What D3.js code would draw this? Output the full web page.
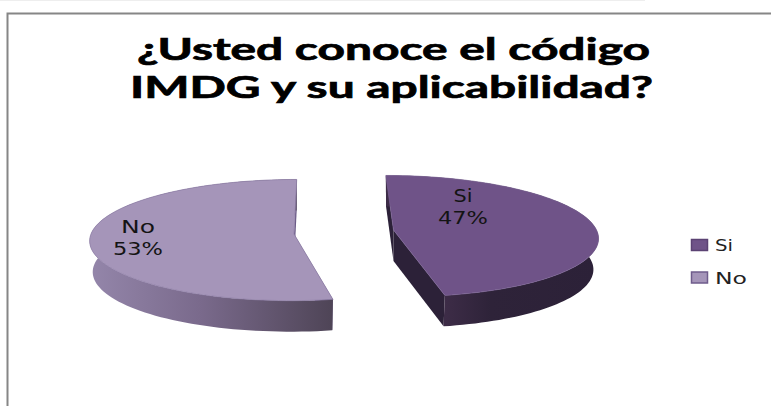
<!DOCTYPE html>
<html>
<head>
<meta charset="utf-8">
<script src="https://cdn.jsdelivr.net/npm/d3@7/dist/d3.min.js"></script>
<style>
html,body{margin:0;padding:0;background:#fff}
svg{display:block}
</style>
</head>
<body>
<svg id="chart" width="771" height="406"></svg>
<script>
// Chart content
const titleLines = ["¿Usted conoce el código", "IMDG y su aplicabilidad?"];
const categories = ["Si", "No"];
const percentages = [47, 53];

// Drawing style and layout for each slice
const topColors = ["#6f5388", "#a595b9"];
const legendBorders = ["#5b4273", "#6f5c8c"];
const sliceLayout = [
  {cx: 393.5, cy: 230, shear: 0.14, shrink: 0.975, labelX: 463, labelY: 196},
  {cx: 294, cy: 234, shear: -0.05, shrink: 0.985, labelX: 138, labelY: 227}
];
const titleLayout = [
  {x: 393.5, y: 60, length: 513},
  {x: 391.5, y: 98, length: 523}
];
const radiusX = 203, radiusY = 60, tilt = 0.1, depth = 31;

const svg = d3.select("#chart");
const defs = svg.append("defs");

// Faint strip along the upper edge and the frame around the chart
svg.append("rect").attr("x", 0).attr("y", 0).attr("width", 645).attr("height", 1).attr("fill", "#eeeeee");
svg.append("path").attr("d", "M7.5,406V13.5H771").attr("fill", "none").attr("stroke", "#868686").attr("stroke-width", 2);

// Title
svg.append("g").selectAll("text").data(titleLines).join("text")
  .attr("x", (d, i) => titleLayout[i].x)
  .attr("y", (d, i) => titleLayout[i].y)
  .attr("text-anchor", "middle")
  .attr("font-family", "Lato, 'Open Sans', sans-serif")
  .attr("font-weight", 700)
  .attr("font-size", 30)
  .attr("fill", "#000")
  .attr("stroke", "#000")
  .attr("stroke-width", 0.7)
  .attr("textLength", (d, i) => titleLayout[i].length)
  .attr("lengthAdjust", "spacingAndGlyphs")
  .text(d => d);

// Slice angles
const pie = d3.pie().sort(null).value(d => d).startAngle(0).endAngle(2 * Math.PI);
const arcs = pie(percentages);

// Perspective projection of a point on the pie's disc; v grows toward the viewer
function project(angle, r, layout, base) {
  const u = r * Math.sin(angle), v = -r * Math.cos(angle), w = 1 - tilt * v;
  const y = radiusY * v / w;
  let x = radiusX * u / w + layout.shear * y;
  if (base) x *= layout.shrink;
  return [layout.cx + x, layout.cy + y + (base ? depth : 0)];
}

const line = d3.line();
function rimAngles(a) {
  return d3.range(0, 97).map(i => a.startAngle + (a.endAngle - a.startAngle) * i / 96);
}

// Gradients for the outer walls
const gradientStops = [
  [["0%", "#3d2c47"], ["30%", "#2e2339"], ["100%", "#2c2138"]],
  [["0%", "#9486aa"], ["45%", "#7a6a8c"], ["100%", "#4e4456"]]
];
const gradientExtents = [[445, 597], [90, 334]];
gradientStops.forEach((stops, i) => {
  const g = defs.append("linearGradient")
    .attr("id", "wall" + i)
    .attr("gradientUnits", "userSpaceOnUse")
    .attr("x1", gradientExtents[i][0]).attr("x2", gradientExtents[i][1])
    .attr("y1", 0).attr("y2", 0);
  stops.forEach(s => g.append("stop").attr("offset", s[0]).attr("stop-color", s[1]));
});
const radialWallColors = ["#2c2138", "#6a5a86"];

const slices = svg.append("g").selectAll("g").data(arcs).join("g");

slices.each(function(a, i) {
  const layout = sliceLayout[i];
  const g = d3.select(this);
  const angles = rimAngles(a);
  const top = angles.map(t => project(t, 1, layout, false));
  const bottom = angles.map(t => project(t, 1, layout, true));
  const apexTop = project(0, 0, layout, false);
  const apexBottom = project(0, 0, layout, true);

  // Straight cut walls, painted first so the rim and face overlap them
  [[top[0], bottom[0]], [top[96], bottom[96]]].forEach(edge => {
    g.append("path")
      .attr("d", line([apexTop, edge[0], edge[1], apexBottom]) + "Z")
      .attr("fill", radialWallColors[i]);
  });

  // Curved outer wall
  g.append("path")
    .attr("d", line(top.concat(bottom.slice().reverse())) + "Z")
    .attr("fill", `url(#wall${i})`);

  // Upper face
  g.append("path")
    .attr("d", line([apexTop].concat(top)) + "Z")
    .attr("fill", topColors[i])
    .attr("stroke", i === 0 ? "#7a6194" : "#8d7da5")
    .attr("stroke-width", 0.7)
    .attr("stroke-linejoin", "round");

  // Category name and percentage
  const label = g.append("g")
    .attr("font-family", "'DejaVu Sans', sans-serif")
    .attr("font-size", 17)
    .attr("fill", "#141414")
    .attr("text-anchor", "middle");
  label.append("text").attr("x", layout.labelX).attr("y", layout.labelY + 6)
    .attr("textLength", i === 0 ? 19 : 34).attr("lengthAdjust", "spacingAndGlyphs")
    .text(categories[i]);
  label.append("text").attr("x", layout.labelX).attr("y", layout.labelY + 28)
    .attr("textLength", 50).attr("lengthAdjust", "spacingAndGlyphs")
    .text(percentages[i] + "%");
});

// Legend
const legendY = d3.scalePoint().domain(categories).range([245, 277.5]);
const legend = svg.append("g").selectAll("g").data(categories).join("g")
  .attr("transform", d => `translate(0,${legendY(d)})`);
legend.append("rect")
  .attr("x", 691.5).attr("y", -5.5).attr("width", 16).attr("height", 11)
  .attr("fill", (d, i) => topColors[i])
  .attr("stroke", (d, i) => legendBorders[i])
  .attr("stroke-width", 1.5);
legend.append("text")
  .attr("x", 715).attr("y", 6)
  .attr("font-family", "'DejaVu Sans', sans-serif")
  .attr("font-size", 15)
  .attr("fill", "#222")
  .attr("textLength", (d, i) => i === 0 ? 18 : 32)
  .attr("lengthAdjust", "spacingAndGlyphs")
  .text(d => d);
</script>
</body>
</html>
